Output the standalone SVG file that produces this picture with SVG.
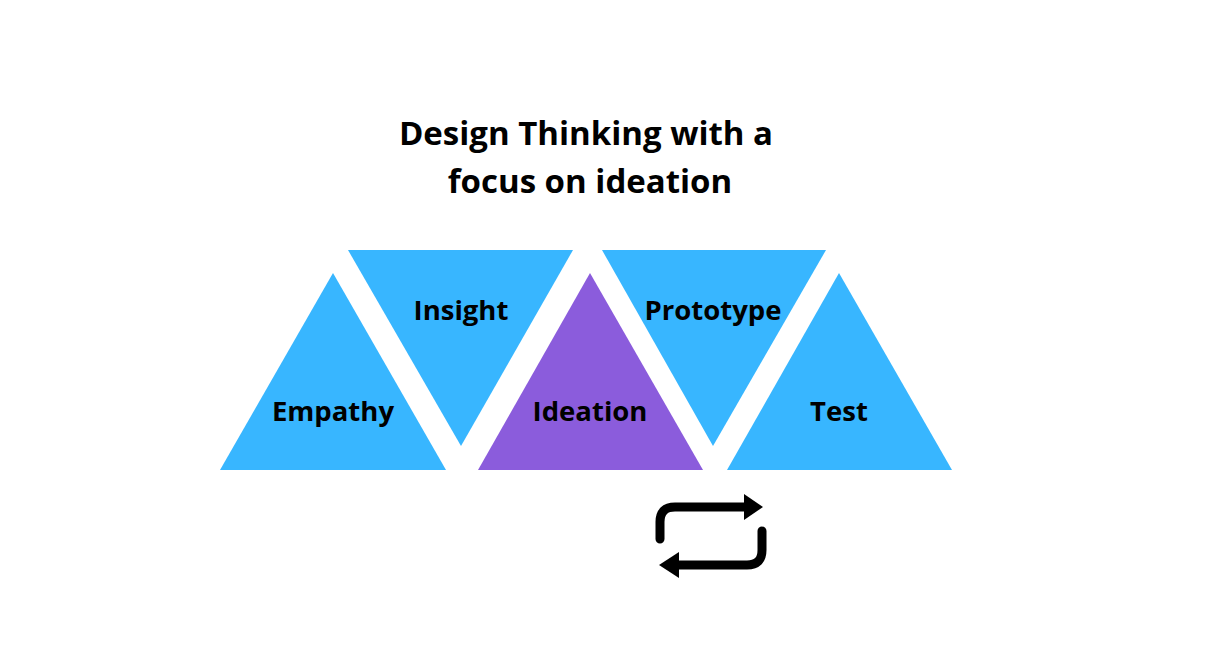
<svg xmlns="http://www.w3.org/2000/svg" width="1218" height="648" viewBox="0 0 1218 648">
<style>
.t{font-family:"Open Sans","Liberation Sans",sans-serif;font-weight:700;fill:#000;text-anchor:middle}
.lbl{font-size:27.5px}
.title{font-size:33px}
.blue{fill:#38B6FF}
.purple{fill:#8B5CDC}
.ic{fill:none;stroke:#000;stroke-width:9;stroke-linecap:round;stroke-linejoin:round}
</style>
<rect width="1218" height="648" fill="#fff"/>
<g id="title">
<text class="t title" x="586" y="145">Design Thinking with a</text>
<text class="t title" x="590" y="193">focus on ideation</text>
</g>
<g id="empathy">
<polygon class="blue" points="333,273 446,470 220,470"/>
<text class="t lbl" x="333" y="421">Empathy</text>
</g>
<g id="insight">
<polygon class="blue" points="348,250 573,250 461,446"/>
<text class="t lbl" x="461" y="320">Insight</text>
</g>
<g id="ideation">
<polygon class="purple" points="590,273 703,470 478,470"/>
<text class="t lbl" x="590" y="421">Ideation</text>
</g>
<g id="prototype">
<polygon class="blue" points="602,250 826,250 713,446"/>
<text class="t lbl" x="713" y="320">Prototype</text>
</g>
<g id="test">
<polygon class="blue" points="839,273 952,470 727,470"/>
<text class="t lbl" x="839" y="421">Test</text>
</g>
<g id="connectors">
<path class="ic" d="M660,539 V522 Q660,507 675,507 H745"/>
<polygon points="744,494 763,507 744,520" fill="#000"/>
<path class="ic" d="M762,531 V550 Q762,565 747,565 H677"/>
<polygon points="679,552 659,565 679,578" fill="#000"/>
</g>
</svg>
